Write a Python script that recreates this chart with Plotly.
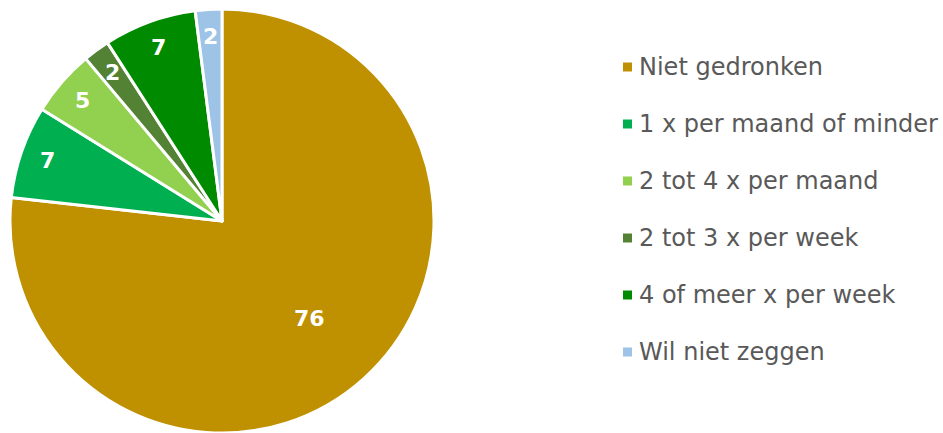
import math
import plotly.graph_objects as go

labels = ["Niet gedronken", "1 x per maand of minder", "2 tot 4 x per maand",
          "2 tot 3 x per week", "4 of meer x per week", "Wil niet zeggen"]
values = [76, 7, 5, 2, 7, 2]
colors = ["#BF9000", "#00B050", "#92D050", "#548235", "#008A00", "#9DC3E6"]

W, H = 943, 433
CX, CY, R = 222, 221, 212  # pie centre/radius in figure pixels

fig = go.Figure()
fig.add_trace(go.Pie(
    labels=labels, values=values, sort=False, direction="clockwise", rotation=0,
    marker=dict(colors=colors, line=dict(color="white", width=3)),
    textinfo="none",
    domain=dict(x=[(CX - R) / W, (CX + R) / W], y=[1 - (CY + R) / H, 1 - (CY - R) / H]),
    showlegend=False, hoverinfo="label+value",
))

# value labels placed at each slice's mid-angle
total = sum(values)
cum = 0
for v in values:
    mid = (cum + v / 2) / total * 2 * math.pi
    cum += v
    r = R * (0.62 if v / total > 0.5 else 0.87)
    fig.add_annotation(xref="paper", yref="paper",
                       x=(CX + r * math.sin(mid)) / W, y=1 - (CY - r * math.cos(mid)) / H,
                       text=str(v), showarrow=False, xanchor="center", yanchor="middle",
                       font=dict(family="DejaVu Sans", size=22, color="white", weight="bold"))

# legend built from the labels/colors lists
x0, y0, step = 623, 67, 57
for i, (lab, col) in enumerate(zip(labels, colors)):
    yc = y0 + i * step
    fig.add_shape(type="rect", xref="paper", yref="paper",
                  x0=x0 / W, x1=(x0 + 9) / W, y0=1 - (yc + 4.5) / H, y1=1 - (yc - 4.5) / H,
                  fillcolor=col, line=dict(width=0))
    fig.add_annotation(xref="paper", yref="paper", x=(x0 + 14) / W, y=1 - yc / H,
                       xanchor="left", yanchor="middle", text=lab, showarrow=False,
                       font=dict(family="DejaVu Sans", size=24, color="#595959"))

fig.update_layout(width=W, height=H, margin=dict(l=0, r=0, t=0, b=0),
                  paper_bgcolor="white", plot_bgcolor="white")
fig.write_html("out.html", config={"displayModeBar": False},
               post_script="document.body.style.margin='0';")
